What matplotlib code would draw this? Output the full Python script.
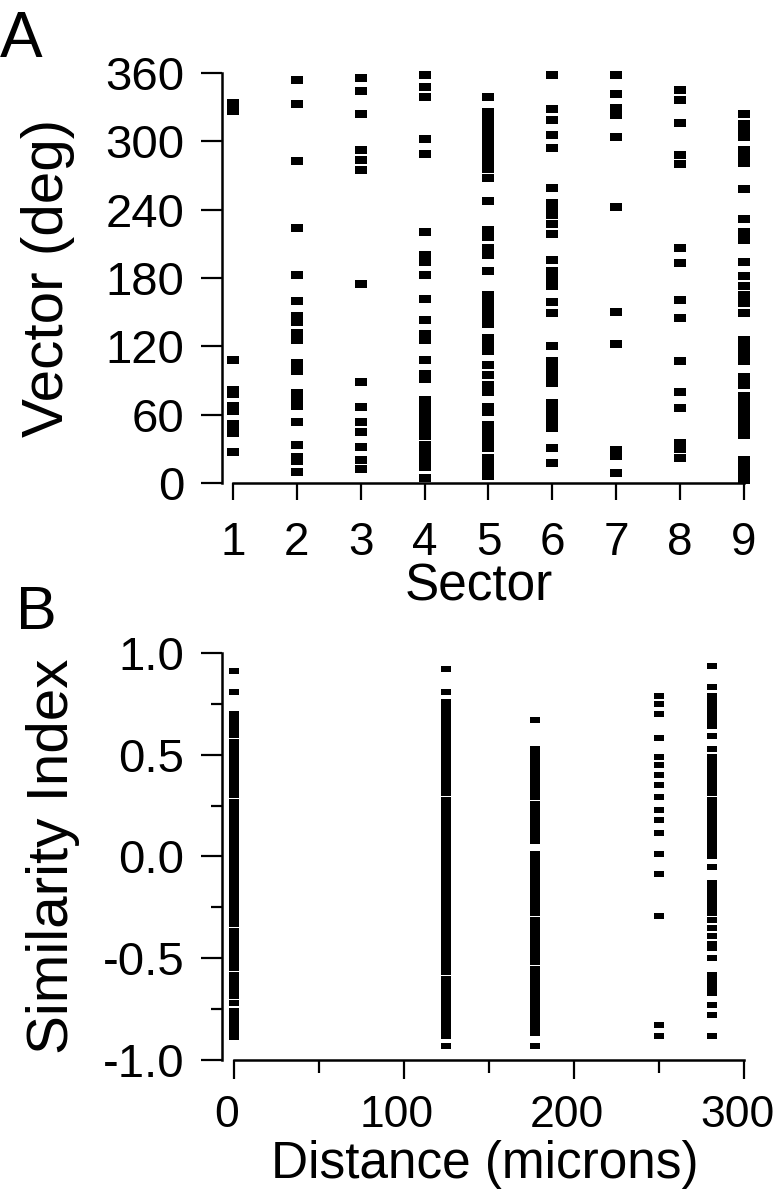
import numpy as np
import matplotlib
matplotlib.use("Agg")
import matplotlib.pyplot as plt
import matplotlib.transforms as mtransforms

plt.rcParams['font.family'] = ['Liberation Sans', 'DejaVu Sans']

# panel A data: vector direction (deg) of each response, per sector
sectors = [1, 2, 3, 4, 5, 6, 7, 8, 9]
vec_s1 = [334, 327, 108, 82, 78, 68, 63, 52, 48, 44, 27]
vec_s2 = [354, 333, 283, 224, 183, 160, 147, 141, 132, 126, 105, 98, 79, 74, 68, 54, 33, 23, 19, 10]
vec_s3 = [356, 344, 324, 292, 284, 275, 175, 89, 67, 54, 45, 32, 20, 12]
vec_s4 = [358, 348, 339, 302, 289, 220, 200, 194, 183, 162, 143, 131, 126, 108, 96, 91,
          73, 68, 64, 61, 55, 51, 47, 41, 33, 26, 22, 17, 14, 4]
vec_s5 = [339, 326, 320, 315, 309, 304, 298, 293, 287, 282, 276, 268, 248, 222, 216, 206, 200,
          186, 165, 159, 153, 146, 140, 127, 121, 116, 104, 95, 86, 80, 67, 62, 51, 46, 41, 36,
          31, 22, 17, 11, 6]
vec_s6 = [358, 328, 319, 306, 294, 259, 246, 240, 235, 227, 219, 196, 186, 180, 173, 159, 149,
          120, 107, 102, 97, 92, 88, 70, 65, 59, 54, 48, 31, 18]
vec_s7 = [358, 342, 329, 323, 304, 242, 150, 122, 29, 24, 9]
vec_s8 = [345, 336, 316, 288, 280, 206, 193, 161, 145, 107, 80, 66, 35, 30, 22]
vec_s9 = [324, 315, 309, 304, 292, 286, 281, 258, 232, 220, 213, 194, 182, 173, 165, 158, 149,
          126, 120, 114, 107, 93, 86, 76, 70, 65, 60, 54, 48, 42, 20, 14, 8, 3]
vectors = [vec_s1, vec_s2, vec_s3, vec_s4, vec_s5, vec_s6, vec_s7, vec_s8, vec_s9]

# panel B data: similarity index vs distance
distances = [0, 125, 177, 250, 281]
sim_d0 = [0.91, 0.81, 0.70, 0.67, 0.645, 0.62, 0.595, 0.565, 0.54, 0.51, 0.485, 0.46, 0.43,
          0.405, 0.38, 0.35, 0.325, 0.30, 0.27, 0.245, 0.22, 0.19, 0.165, 0.14, 0.115, 0.09,
          0.06, 0.035, 0.01, -0.015, -0.04, -0.07, -0.095, -0.12, -0.15, -0.175, -0.20, -0.23,
          -0.255, -0.28, -0.30, -0.33, -0.365, -0.39, -0.42, -0.445, -0.47, -0.50, -0.525,
          -0.55, -0.58, -0.605, -0.63, -0.66, -0.685, -0.72, -0.76, -0.785, -0.81, -0.84,
          -0.865, -0.885]
sim_d125 = [0.92, 0.81, 0.76, 0.735, 0.71, 0.68, 0.655, 0.63, 0.60, 0.575, 0.55, 0.52, 0.495,
            0.47, 0.44, 0.415, 0.39, 0.36, 0.335, 0.31, 0.28, 0.255, 0.23, 0.20, 0.175, 0.15,
            0.12, 0.095, 0.07, 0.04, 0.015, -0.01, -0.04, -0.065, -0.09, -0.12, -0.145, -0.17,
            -0.20, -0.225, -0.25, -0.28, -0.305, -0.33, -0.36, -0.385, -0.41, -0.44, -0.465,
            -0.49, -0.52, -0.545, -0.57, -0.60, -0.625, -0.65, -0.68, -0.705, -0.73, -0.76,
            -0.785, -0.81, -0.84, -0.865, -0.88, -0.93]
sim_d177 = [0.67, 0.53, 0.50, 0.475, 0.45, 0.42, 0.395, 0.37, 0.34, 0.315, 0.29, 0.26, 0.235,
            0.21, 0.18, 0.155, 0.13, 0.10, 0.075, 0.01, -0.015, -0.04, -0.07, -0.095, -0.12,
            -0.15, -0.175, -0.20, -0.23, -0.255, -0.28, -0.31, -0.335, -0.36, -0.39, -0.415,
            -0.44, -0.47, -0.495, -0.52, -0.555, -0.58, -0.605, -0.635, -0.66, -0.685, -0.715,
            -0.74, -0.765, -0.795, -0.82, -0.845, -0.865, -0.93]
sim_d250 = [0.79, 0.75, 0.70, 0.58, 0.49, 0.45, 0.40, 0.35, 0.29, 0.23, 0.18, 0.115, 0.01,
            -0.085, -0.29, -0.83, -0.88]
sim_d281 = [0.935, 0.835, 0.79, 0.76, 0.73, 0.70, 0.67, 0.64, 0.59, 0.53, 0.49, 0.46, 0.43,
            0.40, 0.37, 0.34, 0.31, 0.28, 0.25, 0.22, 0.19, 0.17, 0.15, 0.12, 0.09, 0.06, 0.03,
            0.00, -0.05, -0.13, -0.16, -0.19, -0.22, -0.25, -0.28, -0.31, -0.35, -0.39, -0.43,
            -0.45, -0.50, -0.58, -0.61, -0.64, -0.67, -0.73, -0.78, -0.88]
similarity = [sim_d0, sim_d125, sim_d177, sim_d250, sim_d281]

W, H = 781, 1199
rect_marker = [(-0.8, -0.5), (0.8, -0.5), (0.8, 0.5), (-0.8, 0.5), (-0.8, -0.5)]


def px_axes(left, top, right, bottom):
    return [left / W, 1 - bottom / H, (right - left) / W, (bottom - top) / H]


fig = plt.figure(figsize=(W / 100, H / 100), dpi=100)

# ---- panel A
axA = fig.add_axes(px_axes(222, 73, 770, 483))
for s, v in zip(sectors, vectors):
    axA.plot([s] * len(v), v, linestyle='none', marker=rect_marker, markersize=8.2,
             color='black', markeredgewidth=0, clip_on=False)
axA.set_xlim(0.828, 9.407)
axA.set_ylim(0, 360)
axA.set_yticks(range(0, 361, 60))
axA.set_xticks(sectors)
axA.spines['left'].set_bounds(0, 360)
axA.spines['bottom'].set_bounds(1, 9)
axA.tick_params(axis='y', length=15, width=1.6, pad=12, labelsize=34)
axA.tick_params(axis='x', length=12, width=1.6, pad=15, labelsize=33)
axA.set_ylabel('Vector (deg)', fontsize=42)
axA.yaxis.set_label_coords(-0.268, 0.5)
axA.set_xlabel('Sector', fontsize=37)
axA.xaxis.set_label_coords(0.468, -0.195)

# ---- panel B
axB = fig.add_axes(px_axes(222, 653, 770, 1060))
for d, s in zip(distances, similarity):
    axB.plot([d] * len(s), s, linestyle='none', marker=rect_marker, markersize=7.6,
             color='black', markeredgewidth=0, clip_on=False)
axB.set_xlim(-7.06, 315.3)
axB.set_ylim(-1, 1)
axB.set_yticks([-1, -0.5, 0, 0.5, 1])
axB.set_yticklabels(['-1.0', '-0.5', '0.0', '0.5', '1.0'])
axB.set_yticks([-0.75, -0.25, 0.25, 0.75], minor=True)
axB.set_xticks([0, 100, 200, 300])
axB.set_xticks([50, 150, 250], minor=True)
axB.spines['left'].set_bounds(-1, 1)
axB.spines['bottom'].set_bounds(0, 300)
axB.tick_params(axis='y', which='major', length=15, width=1.6, pad=12, labelsize=34)
axB.tick_params(axis='y', which='minor', length=8, width=1.6)
axB.tick_params(axis='x', which='major', length=14, width=1.6, pad=11, labelsize=32)
axB.tick_params(axis='x', which='minor', length=9, width=1.6)
axB.set_ylabel('Similarity Index', fontsize=42)
axB.yaxis.set_label_coords(-0.259, 0.5)
axB.set_xlabel('Distance (microns)', fontsize=37)
axB.xaxis.set_label_coords(0.48, -0.197)

# nudge distance tick labels slightly left so "300" stays inside the figure
shift = mtransforms.ScaledTranslation(-7 / 100, 0, fig.dpi_scale_trans)
for lbl in axB.get_xticklabels():
    lbl.set_transform(lbl.get_transform() + shift)

for ax in (axA, axB):
    ax.spines['top'].set_visible(False)
    ax.spines['right'].set_visible(False)
    for side in ('left', 'bottom'):
        ax.spines[side].set_linewidth(1.8)

fig.text(0.0, 1 - 10 / H, 'A', fontsize=46, va='top', ha='left')
fig.text(16 / W, 1 - 585 / H, 'B', fontsize=44, va='top', ha='left')

plt.savefig('out.png', dpi=100, facecolor='white')
